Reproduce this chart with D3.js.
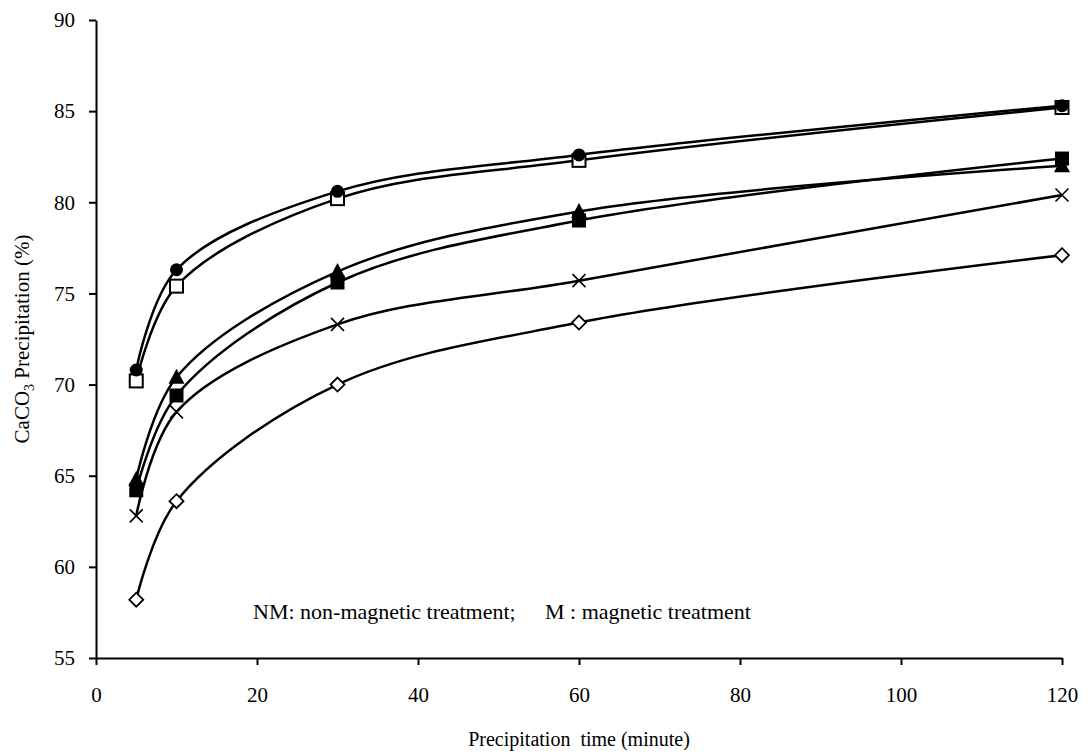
<!DOCTYPE html>
<html>
<head>
<meta charset="utf-8">
<script src="https://cdnjs.cloudflare.com/ajax/libs/d3/7.8.5/d3.min.js"></script>
<style>
  body { margin: 0; background: #fff; }
  text { font-family: "Liberation Serif", "Times New Roman", serif; fill: #000; }
</style>
</head>
<body>
<script>
// precipitation time (minute)
var times = [5, 10, 30, 60, 120];

// CaCO3 precipitation (%) for each run
var circleVals   = [70.8, 76.3, 80.6, 82.6, 85.3];
var openSqVals   = [70.2, 75.4, 80.2, 82.3, 85.2];
var triangleVals = [64.8, 70.4, 76.2, 79.5, 82.0];
var fillSqVals   = [64.2, 69.4, 75.6, 79.0, 82.4];
var crossVals    = [62.8, 68.5, 73.3, 75.7, 80.4];
var diamondVals  = [58.2, 63.6, 70.0, 73.4, 77.1];

var xTicks = [0, 20, 40, 60, 80, 100, 120];
var yTicks = [55, 60, 65, 70, 75, 80, 85, 90];

var series = [
    { name: "circle",   vals: circleVals,   marker: "circle" },
    { name: "openSq",   vals: openSqVals,   marker: "openSquare" },
    { name: "triangle", vals: triangleVals, marker: "triangle" },
    { name: "fillSq",   vals: fillSqVals,   marker: "square" },
    { name: "cross",    vals: crossVals,    marker: "cross" },
    { name: "diamond",  vals: diamondVals,  marker: "diamond" }
];

var width = 1091;
var height = 753;
var margin = { top: 20, right: 29, bottom: 95, left: 96 };

var svg = d3.select("body")
    .append("svg")
    .attr("width", width)
    .attr("height", height);

var x = d3.scaleLinear()
    .domain([0, 120])
    .range([margin.left, width - margin.right]);

var y = d3.scaleLinear()
    .domain([55, 90])
    .range([height - margin.bottom, margin.top]);

// axes
var xAxis = svg.append("g")
    .attr("transform", "translate(0," + y(55) + ")")
    .call(d3.axisBottom(x).tickValues(xTicks).tickSize(7).tickPadding(22).tickSizeOuter(0));

var yAxis = svg.append("g")
    .attr("transform", "translate(" + x(0) + ",0)")
    .call(d3.axisLeft(y).tickValues(yTicks).tickSize(7).tickPadding(14).tickSizeOuter(0));

[xAxis, yAxis].forEach(function(a) {
    a.selectAll(".domain").attr("stroke", "#000").attr("stroke-width", 2);
    a.selectAll(".tick line").attr("stroke", "#000").attr("stroke-width", 2);
    a.selectAll(".tick text")
        .style("font-family", "'Liberation Serif', serif")
        .style("font-size", "21px");
});

// lines
var line = d3.line()
    .x(function(d, i) { return x(times[i]); })
    .y(function(d) { return y(d); })
    .curve(d3.curveCatmullRom.alpha(0.5));

svg.selectAll("path.series")
    .data(series)
    .enter()
    .append("path")
    .attr("class", "series")
    .attr("fill", "none")
    .attr("stroke", "#000")
    .attr("stroke-width", 2.5)
    .attr("d", function(d) { return line(d.vals); });

// markers
function drawMarker(g, type) {
    if (type === "circle") {
        g.append("circle").attr("r", 6.5).attr("fill", "#000");
    } else if (type === "openSquare") {
        g.append("rect").attr("x", -6.5).attr("y", -6.5).attr("width", 13).attr("height", 13)
            .attr("fill", "#fff").attr("stroke", "#000").attr("stroke-width", 2);
    } else if (type === "square") {
        g.append("rect").attr("x", -7).attr("y", -7).attr("width", 14).attr("height", 14)
            .attr("fill", "#000");
    } else if (type === "triangle") {
        g.append("path").attr("d", "M0,-8.5L8,6.5L-8,6.5Z").attr("fill", "#000");
    } else if (type === "cross") {
        g.append("path").attr("d", "M-6.5,-6.5L6.5,6.5M-6.5,6.5L6.5,-6.5")
            .attr("stroke", "#000").attr("stroke-width", 1.6);
    } else if (type === "diamond") {
        g.append("path").attr("d", "M0,-7L7,0L0,7L-7,0Z")
            .attr("fill", "#fff").attr("stroke", "#000").attr("stroke-width", 1.8);
    }
}

// draw bottom series first so the upper ones sit on top
series.slice().reverse().forEach(function(s) {
    svg.selectAll("g.m-" + s.name)
        .data(s.vals)
        .enter()
        .append("g")
        .attr("class", "m-" + s.name)
        .attr("transform", function(d, i) { return "translate(" + x(times[i]) + "," + y(d) + ")"; })
        .each(function() { drawMarker(d3.select(this), s.marker); });
});

// axis titles
svg.append("text")
    .attr("x", (x(0) + x(120)) / 2)
    .attr("y", 746)
    .attr("text-anchor", "middle")
    .attr("xml:space", "preserve")
    .style("font-size", "20px")
    .text("Precipitation  time (minute)");

var yt = svg.append("text")
    .attr("transform", "translate(29," + y(72.5) + ") rotate(-90)")
    .attr("text-anchor", "middle")
    .style("font-size", "21px");
yt.append("tspan").text("CaCO");
yt.append("tspan").attr("dy", 5).style("font-size", "14px").text("3");
yt.append("tspan").attr("dy", -5).text(" Precipitation (%)");

// note
svg.append("text")
    .attr("x", 253)
    .attr("y", 619)
    .style("font-size", "22px")
    .text("NM: non-magnetic treatment;");
svg.append("text")
    .attr("x", 545)
    .attr("y", 619)
    .style("font-size", "22px")
    .text("M : magnetic treatment");
</script>
</body>
</html>
